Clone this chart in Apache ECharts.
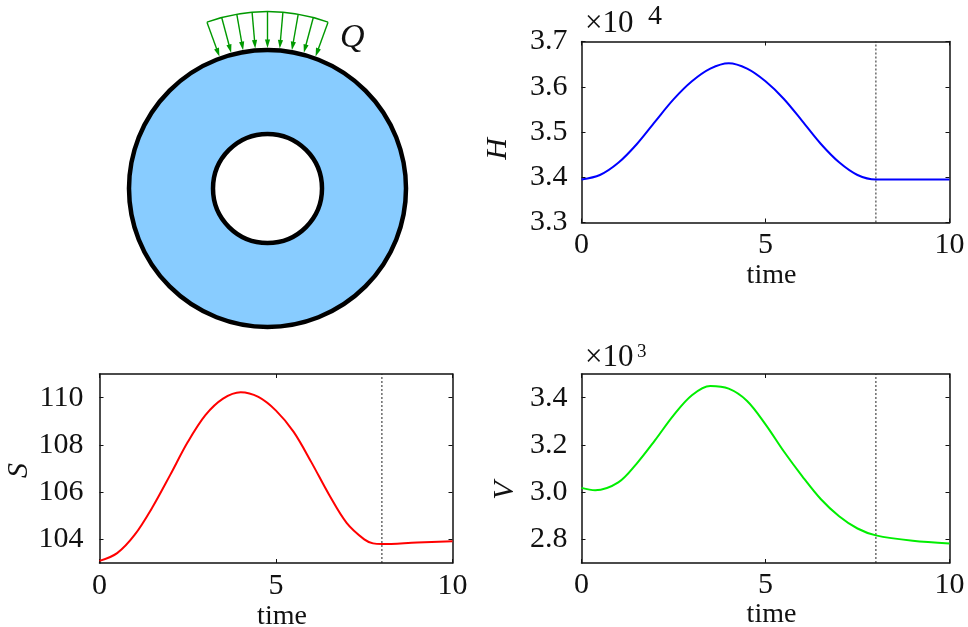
<!DOCTYPE html>
<html>
<head>
<meta charset="utf-8">
<style>
  html, body { margin: 0; padding: 0; background: #fff; }
  #main { width: 968px; height: 627px; }
</style>
<script src="https://cdn.jsdelivr.net/npm/echarts@6/dist/echarts.min.js"></script>
</head>
<body>
<div id="main"></div>
<script>
// values
var hTime = [0, 0.5, 1, 1.5, 2, 2.5, 3, 3.5, 4, 4.5, 5, 5.5, 6, 6.5, 7, 7.5, 8, 9, 10];
var hValues = [3.395, 3.405, 3.432, 3.473, 3.523, 3.572, 3.612, 3.640, 3.652, 3.640, 3.612, 3.573, 3.524, 3.474, 3.433, 3.405, 3.395, 3.395, 3.395];

var sTime = [0, 0.5, 1, 1.5, 2, 2.5, 3, 3.5, 4, 4.5, 5, 5.5, 6, 6.5, 7, 7.5, 7.75, 8, 9, 10];
var sValues = [103.09, 103.42, 104.2, 105.36, 106.72, 108.12, 109.26, 109.96, 110.23, 110.03, 109.45, 108.55, 107.27, 105.9, 104.7, 104.0, 103.83, 103.8, 103.87, 103.92];

var vTime = [0, 0.37, 1, 1.5, 2, 2.5, 3, 3.5, 4, 4.5, 5, 5.5, 6, 6.5, 7, 7.5, 8, 9, 10];
var vValues = [3.018, 3.008, 3.041, 3.121, 3.22, 3.325, 3.41, 3.449, 3.438, 3.386, 3.287, 3.172, 3.067, 2.971, 2.898, 2.846, 2.817, 2.794, 2.783];

var timeTicks = [0, 5, 10];
var hTicks = [3.3, 3.4, 3.5, 3.6, 3.7];
var sTicks = [104, 106, 108, 110];
var vTicks = [2.8, 3.0, 3.2, 3.4];
var switchOffTime = 8;

// arrow directions of the heat load Q, degrees from straight up
var arrowAngles = [-20, -15, -10, -5, 0, 5, 10, 15, 20];

var serif = '"Liberation Serif", "DejaVu Serif", serif';
var black = '#111';
var green = '#009900';

function zip(xs, ys) {
    return xs.map(function (x, i) { return [x, ys[i]]; });
}

var panels = [
    { name: 'H', time: hTime, values: hValues, color: '#0000ff', ticks: hTicks, min: 3.3, max: 3.7, digits: 1,
      left: 581.5, top: 41.5, width: 368, height: 181, nameGap: 68, namePad: 34, yMargin: 14, xMargin: 8, timeGap: 36 },
    { name: 'S', time: sTime, values: sValues, color: '#ff0000', ticks: sTicks, min: 103, max: 111, digits: 0,
      left: 99.5, top: 374, width: 353, height: 189, nameGap: 58, namePad: 4, yMargin: 16, xMargin: 8.5, timeGap: 35 },
    { name: 'V', time: vTime, values: vValues, color: '#00ee00', ticks: vTicks, min: 2.7, max: 3.5, digits: 1,
      left: 581.5, top: 374, width: 368, height: 189, nameGap: 61, namePad: 44, yMargin: 14, xMargin: 7, timeGap: 35 }
];

var grid = [], xAxis = [], yAxis = [], series = [];

var frameLine = { show: true, onZero: false, lineStyle: { color: black, width: 1.5 } };

panels.forEach(function (p, i) {
    grid.push({ left: p.left, top: p.top, width: p.width, height: p.height, outerBoundsMode: 'none' });

    // bottom and left carry the labels, top and right only repeat the ticks
    xAxis.push({
        type: 'value', gridIndex: i, position: 'bottom', min: 0, max: 10,
        name: 'time', nameLocation: 'middle', nameGap: p.timeGap,
        nameTextStyle: { fontFamily: serif, fontSize: 28, color: black, padding: [0, 0, 0, 12] },
        axisLine: frameLine, splitLine: { show: false },
        axisTick: { inside: true, length: 4, customValues: timeTicks, lineStyle: { color: black } },
        axisLabel: { customValues: timeTicks, margin: p.xMargin, fontFamily: serif, fontSize: 30, color: black }
    });
    xAxis.push({
        type: 'value', gridIndex: i, position: 'top', min: 0, max: 10,
        axisLine: frameLine, splitLine: { show: false },
        axisTick: { inside: true, length: 4, customValues: timeTicks, lineStyle: { color: black } },
        axisLabel: { show: false }
    });
    yAxis.push({
        type: 'value', gridIndex: i, position: 'left', min: p.min, max: p.max,
        name: p.name, nameLocation: 'middle', nameGap: p.nameGap, nameRotate: 90,
        nameTextStyle: { fontFamily: serif, fontStyle: 'italic', fontSize: 30, color: black, padding: [0, p.namePad, 0, 0] },
        axisLine: frameLine, splitLine: { show: false },
        axisTick: { inside: true, length: 4, customValues: p.ticks, lineStyle: { color: black } },
        axisLabel: {
            customValues: p.ticks, margin: p.yMargin, fontFamily: serif, fontSize: 30, color: black, padding: [6, 0, 0, 0],
            formatter: function (v) { return v.toFixed(p.digits); }
        }
    });
    yAxis.push({
        type: 'value', gridIndex: i, position: 'right', min: p.min, max: p.max,
        axisLine: frameLine, splitLine: { show: false },
        axisTick: { inside: true, length: 4, customValues: p.ticks, lineStyle: { color: black } },
        axisLabel: { show: false }
    });

    series.push({
        name: p.name + ' switch-off', type: 'line', xAxisIndex: i * 2, yAxisIndex: i * 2, symbol: 'none', silent: true,
        data: [[switchOffTime, p.min], [switchOffTime, p.max]],
        lineStyle: { color: '#222', width: 1, type: [2, 2] }
    });
    series.push({
        name: p.name, type: 'line', xAxisIndex: i * 2, yAxisIndex: i * 2, symbol: 'none',
        smooth: 0.33,
        data: zip(p.time, p.values),
        lineStyle: { color: p.color, width: 2 }
    });
});

// ring and load arrows of the sketch in the top left corner
var cx = 267.5, cy = 188.5;
var graphics = [
    { type: 'circle', shape: { cx: cx, cy: cy, r: 138.5 }, style: { fill: '#88ccff', stroke: '#000', lineWidth: 4.5 } },
    { type: 'circle', shape: { cx: cx, cy: cy, r: 54.5 }, style: { fill: '#fff', stroke: '#000', lineWidth: 4.5 } },
    { type: 'arc', shape: { cx: cx, cy: cy, r: 177, startAngle: (-90 - 20) * Math.PI / 180, endAngle: (-90 + 20) * Math.PI / 180 },
      style: { fill: null, stroke: green, lineWidth: 1.4 } }
];
arrowAngles.forEach(function (deg) {
    var a = deg * Math.PI / 180, s = Math.sin(a), c = Math.cos(a);
    var at = function (r, off) { return [cx + r * s + off * c, cy - r * c + off * s]; };
    var tail = at(177, 0), neck = at(148, 0);
    graphics.push({ type: 'line', shape: { x1: tail[0], y1: tail[1], x2: neck[0], y2: neck[1] },
        style: { stroke: green, lineWidth: 1.4 } });
    graphics.push({ type: 'polygon', shape: { points: [at(140.5, 0), at(149, -2.6), at(149, 2.6)] },
        style: { fill: green, stroke: null } });
});

function label(text, x, y, size, italic) {
    return { type: 'text', x: x, y: y, style: {
        text: text, fontFamily: serif, fontSize: size, fontStyle: italic ? 'italic' : 'normal',
        fill: black, verticalAlign: 'middle'
    } };
}
graphics.push(label('Q', 340, 38, 34, true));
graphics.push(label('\u00d710', 585, 24, 31));
graphics.push(label('4', 648, 17, 28));
graphics.push(label('\u00d710', 585, 358, 31));
graphics.push(label('3', 637, 352, 19));

var myChart = echarts.init(document.getElementById('main'));
myChart.setOption({
    animation: false,
    backgroundColor: '#fff',
    grid: grid,
    xAxis: xAxis,
    yAxis: yAxis,
    series: series,
    graphic: graphics
});
</script>
</body>
</html>
